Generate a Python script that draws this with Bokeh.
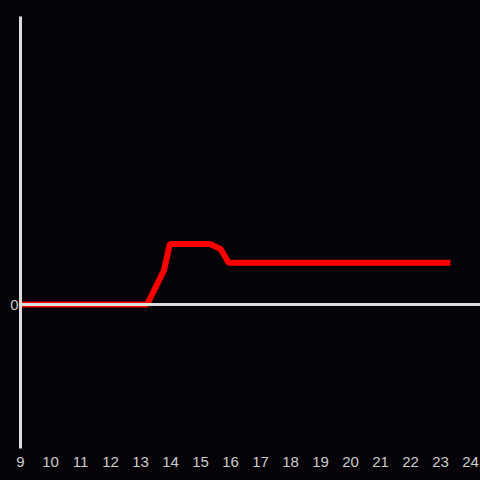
from bokeh.plotting import figure
from bokeh.models import FixedTicker, Span, Range1d
from bokeh.embed import file_html
from bokeh.resources import INLINE

hours = [9.0, 13.22, 13.78, 13.98, 15.31, 15.67, 15.94, 23.33]
values = [0.0, 0.0, 0.236, 0.42, 0.42, 0.386, 0.29, 0.29]
x_ticks = list(range(9, 25))
y_ticks = [0]

BG = "#050307"
AX = "#dddddd"

p = figure(width=480, height=480, output_backend="svg", toolbar_location=None,
           x_range=Range1d(9, 24.333), y_range=Range1d(-1, 2),
           min_border_left=20, min_border_right=0, min_border_top=16, min_border_bottom=32)
p.styles = {"position": "fixed", "top": "0px", "left": "0px", "background-color": BG}
p.background_fill_color = BG
p.border_fill_color = BG
p.outline_line_color = None
p.grid.visible = False

p.xaxis.ticker = FixedTicker(ticks=x_ticks)
p.xaxis.axis_line_color = None
p.xaxis.major_tick_line_color = None
p.xaxis.minor_tick_line_color = None
p.xaxis.major_label_text_color = "#cccccc"
p.xaxis.major_label_text_font = "Liberation Sans"
p.xaxis.major_label_text_font_size = "15px"
p.xaxis.major_label_standoff = 2

p.yaxis.ticker = FixedTicker(ticks=y_ticks)
p.yaxis.axis_line_color = AX
p.yaxis.axis_line_width = 3
p.yaxis.major_tick_line_color = None
p.yaxis.minor_tick_line_color = None
p.yaxis.major_label_text_color = "#cccccc"
p.yaxis.major_label_text_font = "Liberation Sans"
p.yaxis.major_label_text_font_size = "15px"
p.yaxis.major_label_standoff = -4

p.add_layout(Span(location=0, dimension="width", line_color=AX, line_width=3))
p.line(hours, values, line_color="#ff0000", line_width=6)

open("out.html", "w").write(file_html(p, INLINE))
